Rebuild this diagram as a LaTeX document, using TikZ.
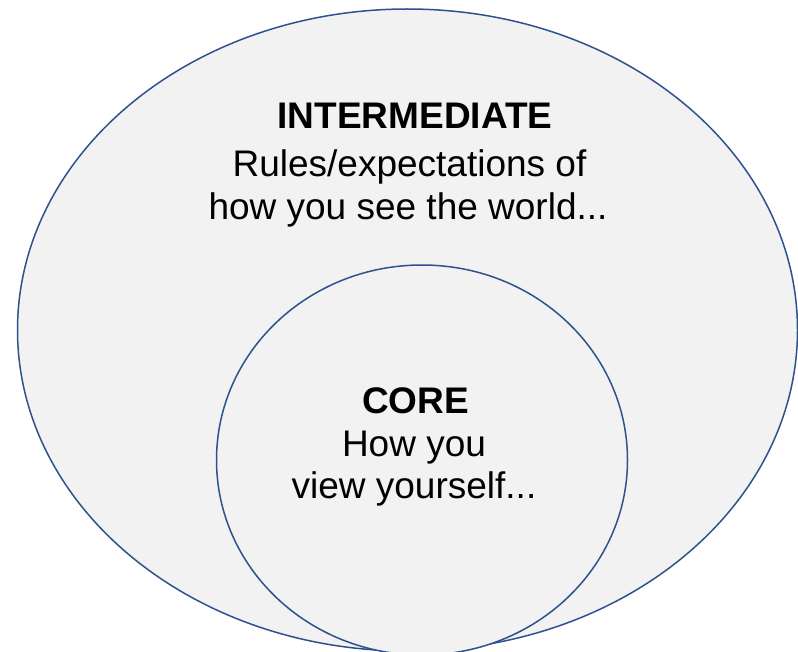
\documentclass[tikz,border=0pt]{standalone}
\usepackage{fontspec}
\setmainfont{Liberation Sans}
\definecolor{ringblue}{RGB}{47,82,143}
\definecolor{ringfill}{RGB}{242,242,242}
\begin{document}
\begin{tikzpicture}[x=1pt,y=-1pt,
  ring/.style={draw=ringblue,fill=ringfill,line width=1.5pt},
  title/.style={anchor=base,inner sep=0pt,font=\fontsize{37}{42}\selectfont\bfseries},
  body/.style={anchor=base,inner sep=0pt,font=\fontsize{37}{42}\selectfont}]
\useasboundingbox (0,0) rectangle (798,652);
\fill[white] (0,0) rectangle (798,652);
\draw[ring] (407.5,330) ellipse [x radius=390, y radius=321];
\draw[ring] (422,460) ellipse [x radius=205.5, y radius=195];
\node[title] (inttitle) at (415,129) {INTERMEDIATE};
\node[body] (intline1) at (409.5,176.5) {Rules/expectations of};
\node[body] (intline2) at (408,220) {how you see the world...};
\node[title] (coretitle) at (415.5,413) {CORE};
\node[body] (coreline1) at (414,456) {How you};
\node[body] (coreline2) at (414,498) {view yourself...};
\end{tikzpicture}
\end{document}
